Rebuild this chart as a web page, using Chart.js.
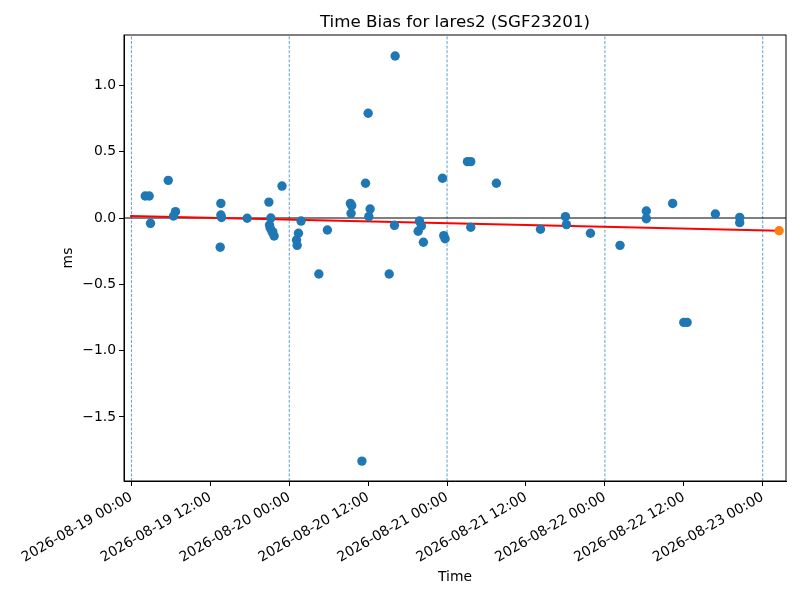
<!DOCTYPE html>
<html>
<head>
<meta charset="utf-8">
<script src="https://cdn.jsdelivr.net/npm/chart.js@4/dist/chart.umd.min.js"></script>
<style>
  html, body { margin: 0; padding: 0; background: #fff; }
  #chart { display: block; }
</style>
</head>
<body>
<canvas id="chart" width="800" height="600"></canvas>
<script>
// hours since 2026-08-19 00:00
var hours = [2.1, 2.7, 2.9, 5.6, 6.7, 6.4, 13.6, 13.6, 13.7, 13.5, 17.6, 22.9, 20.9,
  21.2, 21.0, 21.1, 21.5, 21.7, 21.4, 25.8, 25.4, 25.1, 25.2, 29.8, 28.5,
  33.3, 33.5, 33.4, 35.6, 36.3, 36.1, 36.0, 35.05, 40.1, 39.2, 40.0,
  43.8, 44.1, 43.6, 44.4, 47.3, 47.5, 47.7, 51.1, 51.6, 51.6, 55.5,
  62.2, 66.0, 66.15, 69.8, 74.3, 78.3, 78.3, 82.3, 84.0, 84.5, 88.8, 92.5, 92.5];
// time bias in ms
var biasMs = [0.166, 0.166, -0.04, 0.284, 0.048, 0.015, 0.11, 0.023, 0.004, -0.22, -0.002, 0.241, 0.12,
  0.0, -0.053, -0.075, -0.105, -0.136, -0.105, -0.023, -0.115, -0.166, -0.206, -0.09, -0.422,
  0.11, 0.093, 0.035, 0.262, 0.068, 0.01, 0.79, -1.833, 1.222, -0.422, -0.055,
  -0.023, -0.06, -0.1, -0.183, 0.3, -0.133, -0.156, 0.425, 0.425, -0.07, 0.262,
  -0.085, 0.01, -0.05, -0.115, -0.206, 0.053, -0.005, 0.11, -0.787, -0.787, 0.03, 0.005, -0.035];

// linear fit and predicted point
var fitX = [-0.2, 98.5];
var fitY = [0.016, -0.096];
var predX = [98.5];
var predY = [-0.096];

// day boundaries
var dayLines = [0, 24, 48, 72, 96];

var xTicks = [0, 12, 24, 36, 48, 60, 72, 84, 96];
var xTickLabels = ["2026-08-19 00:00", "2026-08-19 12:00", "2026-08-20 00:00", "2026-08-20 12:00",
  "2026-08-21 00:00", "2026-08-21 12:00", "2026-08-22 00:00", "2026-08-22 12:00", "2026-08-23 00:00"];
var yTicks = [-1.5, -1.0, -0.5, 0.0, 0.5, 1.0];

var xMin = -1.13, xMax = 99.54;
var yMin = -1.983, yMax = 1.38;

Chart.defaults.font.family = "DejaVu Sans";
Chart.defaults.font.size = 13.9;
Chart.defaults.color = "#000";

function pairs(xs, ys) {
  var out = [];
  for (var i in xs) out.push({ x: xs[i], y: ys[i] });
  return out;
}

var datasets = [
  {
    type: "scatter",
    label: "bias",
    data: pairs(hours, biasMs),
    backgroundColor: "#1f77b4",
    pointRadius: 4.7,
    pointBorderWidth: 0
  },
  {
    type: "scatter",
    label: "prediction",
    data: pairs(predX, predY),
    backgroundColor: "#ff7f0e",
    pointRadius: 4.7,
    pointBorderWidth: 0
  },
  {
    type: "line",
    label: "fit",
    data: pairs(fitX, fitY),
    borderColor: "#ff0000",
    borderWidth: 2,
    pointRadius: 0,
    fill: false
  },
  {
    type: "line",
    label: "zero",
    data: [{ x: xMin, y: 0 }, { x: xMax, y: 0 }],
    borderColor: "#000",
    borderWidth: 1.2,
    pointRadius: 0,
    fill: false
  }
];

// vertical day lines
for (var d in dayLines) {
  datasets.push({
    type: "line",
    label: "day" + d,
    data: [{ x: dayLines[d], y: yMin }, { x: dayLines[d], y: yMax }],
    borderColor: "#1f77b4",
    borderWidth: 0.7,
    borderDash: [3, 1.6],
    pointRadius: 0,
    fill: false
  });
}

var framePlugin = {
  id: "frame",
  afterDraw: function (chart) {
    var a = chart.chartArea, ctx = chart.ctx;
    ctx.save();
    ctx.strokeStyle = "#000";
    ctx.lineWidth = 1;
    ctx.strokeRect(a.left, a.top, a.right - a.left, a.bottom - a.top);
    ctx.fillStyle = "#000";
    ctx.font = "16.7px 'DejaVu Sans'";
    ctx.textAlign = "center";
    ctx.textBaseline = "middle";
    ctx.fillText("Time Bias for lares2 (SGF23201)", (a.left + a.right) / 2, 22.5);
    ctx.restore();
  }
};

var ctx = document.getElementById("chart");
var myChart = new Chart(ctx, {
  type: "scatter",
  data: { datasets: datasets },
  plugins: [framePlugin],
  options: {
    responsive: false,
    animation: false,
    devicePixelRatio: 1,
    layout: { padding: { top: 35, right: 14, left: 0, bottom: 0 } },
    plugins: {
      legend: { display: false },
      tooltip: { enabled: false },
      title: { display: false }
    },
    scales: {
      x: {
        type: "linear",
        min: xMin,
        max: xMax,
        afterBuildTicks: function (scale) {
          scale.ticks = xTicks.map(function (v) { return { value: v }; });
        },
        afterFit: function (scale) { scale.height = 119; },
        ticks: {
          minRotation: 30,
          maxRotation: 30,
          padding: 3,
          callback: function (v) {
            var i = xTicks.indexOf(v);
            return i >= 0 ? xTickLabels[i] : "";
          }
        },
        grid: { display: true, drawOnChartArea: false, drawTicks: true, tickLength: 5, color: "#000" },
        border: { display: true, color: "#000", width: 1 },
        title: { display: true, text: "Time", padding: { top: 0, bottom: 14.7 } }
      },
      y: {
        type: "linear",
        min: yMin,
        max: yMax,
        afterBuildTicks: function (scale) {
          scale.ticks = yTicks.map(function (v) { return { value: v }; });
        },
        afterFit: function (scale) { scale.width = 124; },
        ticks: {
          padding: 3,
          callback: function (v) {
            return v.toFixed(1).replace("-", "\u2212");
          }
        },
        grid: { display: true, drawOnChartArea: false, drawTicks: true, tickLength: 5, color: "#000" },
        border: { display: true, color: "#000", width: 1 },
        title: { display: true, text: "ms", padding: { top: 59.7, bottom: 0 } }
      }
    }
  }
});
</script>
</body>
</html>
